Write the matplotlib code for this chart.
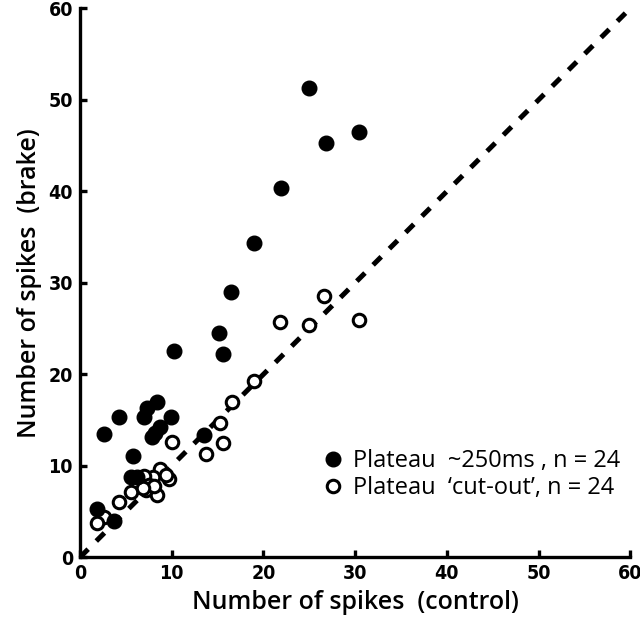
import matplotlib
matplotlib.use("Agg")
import matplotlib.pyplot as plt

# Plateau ~250ms (filled)
ctrl_full = [25.0, 26.8, 30.4, 21.9, 19.0, 16.5, 15.2, 15.6, 10.2, 13.5,
             2.6, 4.2, 7.0, 7.3, 8.4, 9.9, 8.7, 7.8, 8.2, 5.8,
             5.6, 6.2, 1.8, 3.7]
brake_full = [51.3, 45.3, 46.5, 40.4, 34.3, 29.0, 24.5, 22.2, 22.5, 13.4,
              13.5, 15.3, 15.3, 16.3, 17.0, 15.3, 14.2, 13.1, 13.6, 11.1,
              8.8, 8.8, 5.3, 4.0]

# Plateau 'cut-out' (open)
ctrl_cut = [26.6, 30.4, 25.0, 21.8, 19.0, 16.6, 15.3, 15.6, 13.7, 10.0,
            9.7, 8.7, 8.0, 7.0, 7.5, 7.2, 8.4, 5.6, 4.2, 2.6,
            1.8, 8.1, 6.9, 9.4]
brake_cut = [28.5, 25.9, 25.4, 25.7, 19.3, 17.0, 14.7, 12.5, 11.3, 12.6,
             8.6, 9.6, 8.8, 8.9, 7.9, 7.3, 6.8, 7.1, 6.0, 4.4,
             3.8, 7.8, 7.6, 9.0]

unity = [0, 60]
ticks = [0, 10, 20, 30, 40, 50, 60]

fig = plt.figure(figsize=(6.4, 6.34), dpi=100)
ax = fig.add_axes([0.125, 0.121, 0.860, 0.866])

ax.plot(unity, unity, color='black', lw=3.6, dashes=(2.3, 2.3),
        dash_capstyle='butt', zorder=1)
ax.plot(ctrl_full, brake_full, 'o', color='black', ms=10.5,
        label='Plateau  ~250ms , n = 24', zorder=3)
ax.plot(ctrl_cut, brake_cut, 'o', mfc='white', mec='black', mew=2.2, ms=9,
        label='Plateau  \u2018cut-out\u2019, n = 24', zorder=2)

ax.set_xlim(0, 60)
ax.set_ylim(0, 60)
ax.set_xticks(ticks)
ax.set_yticks(ticks)

for s in ['top', 'right']:
    ax.spines[s].set_visible(False)
for s in ['left', 'bottom']:
    ax.spines[s].set_linewidth(2.4)

ax.tick_params(direction='in', length=5, width=2.4, labelsize=14, pad=5)
for lab in ax.get_xticklabels() + ax.get_yticklabels():
    lab.set_family('DejaVu Sans')
    lab.set_fontweight('bold')
    lab.set_fontstretch('condensed')

ax.set_xlabel('Number of spikes  (control)', fontsize=18, family='Open Sans',
              fontweight='semibold', labelpad=5)
ax.set_ylabel('Number of spikes  (brake)', fontsize=18, family='Open Sans',
              fontweight='semibold', labelpad=5)

ax.legend(loc='lower right', bbox_to_anchor=(1.02, 0.065), frameon=False,
          handletextpad=0.35, handlelength=1.0, labelspacing=0.15,
          prop={'family': 'Open Sans', 'size': 17})

fig.savefig('out.png', dpi=100)
